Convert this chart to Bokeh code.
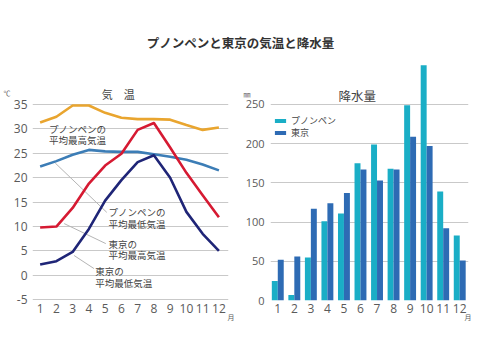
from bokeh.plotting import figure
from bokeh.layouts import column, row
from bokeh.models import (ColumnDataSource, FixedTicker, Label, Legend, LegendItem,
                          LinearAxis, Title)
from bokeh.core.properties import value
from bokeh.embed import file_html
from bokeh.resources import INLINE

# ---- data ----
months = [1, 2, 3, 4, 5, 6, 7, 8, 9, 10, 11, 12]
month_labels = ["1", "2", "3", "4", "5", "6", "7", "8", "9", "10", "11", "12"]
pp_high = [31.3, 32.5, 34.8, 34.8, 33.3, 32.3, 32.0, 32.0, 31.9, 30.8, 29.8, 30.3]
pp_low = [22.3, 23.4, 24.7, 25.7, 25.4, 25.3, 25.3, 24.8, 24.3, 23.7, 22.7, 21.5]
tk_high = [9.8, 10.0, 13.8, 18.8, 22.5, 24.9, 29.8, 31.2, 26.2, 21.0, 16.4, 11.9]
tk_low = [2.2, 2.9, 4.8, 9.5, 15.3, 19.5, 23.2, 24.6, 20.0, 13.0, 8.5, 5.0]
pp_rain = [25, 7, 55, 101, 111, 175, 199, 168, 249, 300, 139, 83]
tk_rain = [52, 56, 117, 124, 137, 167, 153, 167, 209, 197, 92, 51]
temp_ticks = [-5, 0, 5, 10, 15, 20, 25, 30, 35]
rain_ticks = [0, 50, 100, 150, 200, 250]
series_names = ["プノンペン", "東京"]
title_text = "プノンペンと東京の気温と降水量"
temp_title = "気　温"
rain_title = "降水量"
temp_unit = "℃"
rain_unit = "㎜"
month_unit = "月"
# annotation labels (lines, x, y of first line) for the temperature panel
notes = [
    (["プノンペンの", "平均最高気温"], 1.55, 30.0),
    (["プノンペンの", "平均最低気温"], 5.20, 12.9),
    (["東京の", "平均最高気温"], 5.20, 6.45),
    (["東京の", "平均最低気温"], 4.39, 0.84),
]
leader_x0 = [1.93, 2.48, 3.09]
leader_y0 = [23.0, 10.6, 4.06]
leader_x1 = [5.10, 5.04, 4.31]
leader_y1 = [12.9, 6.5, 1.39]

JP = "Noto Sans CJK JP"
NUM = "Open Sans"
GRID = "#c9c9c9"
TXT = "#5a5a5a"

C_PPH = "#e9a52f"
C_PPL = "#3c7db6"
C_TKH = "#d61a32"
C_TKL = "#1f2577"
C_PPR = "#1aaec6"
C_TKR = "#2e6bb4"


def style(p, ticks, size, standoff):
    p.outline_line_color = None
    p.xgrid.visible = False
    p.ygrid.grid_line_color = GRID
    p.ygrid.grid_line_width = 1
    p.yaxis.ticker = FixedTicker(ticks=ticks)
    p.yaxis.major_label_overrides = {t: str(t) for t in ticks}
    p.xaxis.ticker = FixedTicker(ticks=months)
    p.xaxis.major_label_overrides = {m: l for m, l in zip(months, month_labels)}
    for ax in (p.xaxis, p.yaxis):
        ax.axis_line_color = None
        ax.major_tick_line_color = None
        ax.minor_tick_line_color = None
        ax.major_tick_out = 0
        ax.major_label_text_font = NUM
        ax.major_label_text_color = TXT
    p.yaxis.major_label_text_font_size = size
    p.xaxis.major_label_text_font_size = "12px"
    p.yaxis.major_label_standoff = standoff
    p.xaxis.major_label_standoff = 3
    p.background_fill_color = None
    p.border_fill_color = None


def unit_axis(p, ytick, text, standoff):
    ax = LinearAxis(ticker=FixedTicker(ticks=[ytick]), major_label_overrides={ytick: text})
    ax.axis_line_color = None
    ax.major_tick_line_color = None
    ax.minor_tick_line_color = None
    ax.major_tick_out = 0
    ax.major_label_standoff = standoff
    ax.major_label_text_font = JP
    ax.major_label_text_font_size = "7px"
    ax.major_label_text_color = TXT
    p.add_layout(ax, "left")


def month_title(p, offset):
    p.add_layout(Title(text=month_unit, align="right", offset=offset, standoff=-11,
                       text_font=JP, text_font_size="7px", text_font_style="normal",
                       text_color=TXT), "below")


# ---- title figure ----
pt = figure(width=480, height=58, x_range=(0, 480), y_range=(0, 58),
            toolbar_location=None, output_backend="svg", min_border=0)
pt.axis.visible = False
pt.grid.visible = False
pt.outline_line_color = None
pt.add_layout(Label(x=240, y=16, text=title_text, text_font=JP, text_font_size="12.5px",
                    text_font_style="bold", text_color="#333333",
                    text_align="center", text_baseline="middle"))

# ---- temperature figure ----
p1 = figure(width=235, height=274, x_range=(0.53, 12.59), y_range=(-5.16, 44.02),
            toolbar_location=None, output_backend="svg",
            min_border_left=30, min_border_right=7, min_border_top=2, min_border_bottom=32)
style(p1, temp_ticks, "12px", 5)

src = ColumnDataSource(dict(m=months, pph=pp_high, ppl=pp_low, tkh=tk_high, tkl=tk_low))
p1.segment(x0=leader_x0, y0=leader_y0, x1=leader_x1, y1=leader_y1,
           line_color="#b5b5b5", line_width=1)
for col, c in (("pph", C_PPH), ("ppl", C_PPL), ("tkh", C_TKH), ("tkl", C_TKL)):
    p1.line("m", col, source=src, line_color=c, line_width=2.6, line_join="round")

for lines, x, y in notes:
    for i, t in enumerate(lines):
        p1.add_layout(Label(x=x, y=y - i * 2.35, text=t, text_font=JP, text_font_size="9.5px",
                            text_color="#444444", text_align="left", text_baseline="middle"))

p1.add_layout(Label(x=5.8, y=37.1, text=temp_title, text_font=JP, text_font_size="11px",
                    text_color="#444444", text_align="center", text_baseline="middle"))
unit_axis(p1, 37.4, temp_unit, 0)
month_title(p1, -6)

# ---- rainfall figure ----
p2 = figure(width=245, height=274, x_range=(0.56, 12.53), y_range=(0, 306.1),
            toolbar_location=None, output_backend="svg",
            min_border_left=35, min_border_right=12, min_border_top=2, min_border_bottom=32)
style(p2, rain_ticks, "11px", 6)

rsrc = ColumnDataSource(dict(xp=[m - 0.18 for m in months], xt=[m + 0.18 for m in months],
                             pp=pp_rain, tk=tk_rain))
r_pp = p2.vbar(x="xp", top="pp", width=0.36, source=rsrc, fill_color=C_PPR, line_color=None)
r_tk = p2.vbar(x="xt", top="tk", width=0.36, source=rsrc, fill_color=C_TKR, line_color=None)

for rend, name, loc in ((r_pp, series_names[0], (3, 173)), (r_tk, series_names[1], (3, 161))):
    p2.add_layout(Legend(items=[LegendItem(label=name, renderers=[rend])],
                         location=loc, orientation="vertical",
                         glyph_width=14, glyph_height=5, label_height=9, spacing=0,
                         padding=0, margin=0, label_standoff=4, label_text_font=JP,
                         label_text_font_size="9px", label_text_color="#444444",
                         border_line_color=None, background_fill_alpha=0))

p2.add_layout(Label(x=5.8, y=261, text=rain_title, text_font=JP, text_font_size="12.5px",
                    text_color="#444444", text_align="center", text_baseline="middle"))
unit_axis(p2, 262.8, rain_unit, -8)
month_title(p2, -3)

layout = column(pt, row(p1, p2, spacing=0), spacing=0)
open("out.html", "w").write(file_html(layout, INLINE))
